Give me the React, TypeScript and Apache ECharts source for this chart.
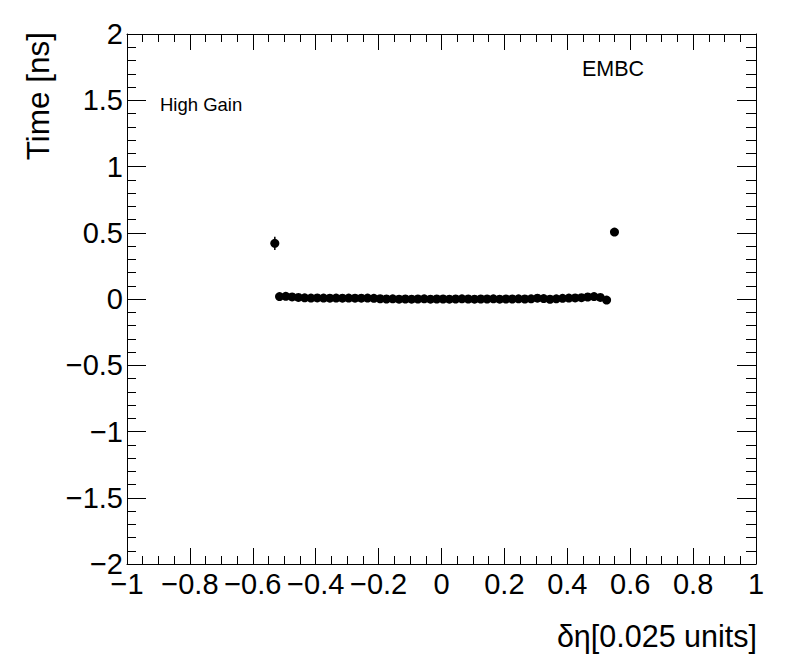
import React, { useEffect, useRef } from "react";
import * as echarts from "echarts";

const xValues = [
  -0.53, -0.515, -0.495, -0.475, -0.455, -0.435, -0.415, -0.395, -0.375, -0.355,
  -0.335, -0.315, -0.295, -0.275, -0.255, -0.235, -0.215, -0.195, -0.175, -0.155,
  -0.135, -0.115, -0.095, -0.075, -0.055, -0.035, -0.015, 0.005, 0.025, 0.045,
  0.065, 0.085, 0.105, 0.125, 0.145, 0.165, 0.185, 0.205, 0.225, 0.245,
  0.265, 0.285, 0.305, 0.325, 0.345, 0.365, 0.385, 0.405, 0.425, 0.445,
  0.465, 0.485, 0.505, 0.525, 0.55,
];

const yValues = [
  0.42, 0.018, 0.02, 0.016, 0.012, 0.009, 0.007, 0.008, 0.007, 0.006,
  0.007, 0.006, 0.007, 0.006, 0.006, 0.007, 0.005, 0.002, 0.0, 0.001,
  -0.001, 0.0, -0.001, 0.0, 0.001, -0.001, 0.0, 0.0, -0.001, 0.0,
  0.001, 0.0, -0.001, 0.0, 0.0, 0.001, -0.001, 0.0, 0.0, 0.001,
  0.0, 0.001, 0.006, 0.003, -0.002, 0.001, 0.005, 0.007, 0.008, 0.01,
  0.015, 0.018, 0.012, -0.008, 0.505,
];

const yErrors = [
  0.05, 0.008, 0.008, 0.008, 0.008, 0.008, 0.008, 0.008, 0.008, 0.008,
  0.008, 0.008, 0.008, 0.008, 0.008, 0.008, 0.008, 0.008, 0.008, 0.008,
  0.008, 0.008, 0.008, 0.008, 0.008, 0.008, 0.008, 0.008, 0.008, 0.008,
  0.008, 0.008, 0.008, 0.008, 0.008, 0.008, 0.008, 0.008, 0.008, 0.008,
  0.008, 0.008, 0.008, 0.008, 0.008, 0.008, 0.008, 0.008, 0.008, 0.008,
  0.008, 0.008, 0.008, 0.008, 0.012,
];

const xTitle = "δη[0.025 units]";
const yTitle = "Time [ns]";
const textGain = "High Gain";
const textDet = "EMBC";

const FONT = "Liberation Sans, Arial, Helvetica, sans-serif";

const fmt = (v: number) => {
  const r = Math.round(v * 10) / 10;
  return (r === 0 ? "0" : String(r)).replace("-", "\u2212");
};

export default function App() {
  const ref = useRef<HTMLDivElement>(null);
  useEffect(() => {
    if (!ref.current) return;
    const chart = echarts.init(ref.current, null, { renderer: "svg" });
    const pts = xValues.map((x, i) => [x, yValues[i]]);
    const errs = xValues.map((x, i) => [x, yValues[i] - yErrors[i], yValues[i] + yErrors[i]]);
    const axisCommon = {
      type: "value" as const,
      axisLine: { show: true, onZero: false, lineStyle: { color: "#000", width: 1 } },
      splitLine: { show: false },
      minorSplitLine: { show: false },
    };
    chart.setOption({
      animation: false,
      backgroundColor: "#fff",
      grid: { left: 127, top: 34, right: 40, bottom: 108, containLabel: false },
      xAxis: [
        {
          ...axisCommon,
          min: -1,
          max: 1,
          interval: 0.2,
          position: "bottom",
          axisTick: { show: true, inside: true, length: 16, lineStyle: { color: "#000" } },
          minorTick: { show: true, splitNumber: 4, length: 8, lineStyle: { color: "#000" } },
          axisLabel: {
            show: true,
            margin: 5,
            color: "#000",
            fontFamily: FONT,
            fontSize: 29,
            formatter: fmt,
          },
        },
        {
          ...axisCommon,
          min: -1,
          max: 1,
          interval: 0.2,
          position: "top",
          axisTick: { show: true, inside: true, length: 16, lineStyle: { color: "#000" } },
          minorTick: { show: true, splitNumber: 4, length: 8, lineStyle: { color: "#000" } },
          axisLabel: { show: false },
        },
      ],
      yAxis: [
        {
          ...axisCommon,
          min: -2,
          max: 2,
          interval: 0.5,
          position: "left",
          axisTick: { show: true, inside: true, length: 19, lineStyle: { color: "#000" } },
          minorTick: { show: true, splitNumber: 5, length: 9, lineStyle: { color: "#000" } },
          axisLabel: {
            show: true,
            margin: 4,
            color: "#000",
            fontFamily: FONT,
            fontSize: 29,
            formatter: fmt,
          },
        },
        {
          ...axisCommon,
          min: -2,
          max: 2,
          interval: 0.5,
          position: "right",
          axisTick: { show: true, inside: true, length: 19, lineStyle: { color: "#000" } },
          minorTick: { show: true, splitNumber: 5, length: 10, lineStyle: { color: "#000" } },
          axisLabel: { show: false },
        },
      ],
      series: [
        {
          type: "custom",
          xAxisIndex: 0,
          yAxisIndex: 0,
          data: errs,
          renderItem: (params: any, api: any) => {
            const lo = api.coord([api.value(0), api.value(1)]);
            const hi = api.coord([api.value(0), api.value(2)]);
            return {
              type: "line",
              shape: { x1: lo[0], y1: lo[1], x2: hi[0], y2: hi[1] },
              style: { stroke: "#000", lineWidth: 1.5 },
            };
          },
          z: 2,
        },
        {
          type: "scatter",
          xAxisIndex: 0,
          yAxisIndex: 0,
          data: pts,
          symbol: "circle",
          symbolSize: 9,
          itemStyle: { color: "#000", opacity: 1 },
          z: 3,
        },
      ],
      graphic: [
        {
          type: "text",
          x: 160,
          y: 114,
          style: {
            text: textGain,
            fontFamily: FONT,
            fontSize: 18.5,
            fill: "#000",
            textAlign: "left",
            textVerticalAlign: "bottom",
          },
        },
        {
          type: "text",
          x: 582,
          y: 80,
          style: {
            text: textDet,
            fontFamily: FONT,
            fontSize: 21.5,
            fill: "#000",
            textAlign: "left",
            textVerticalAlign: "bottom",
          },
        },
        {
          type: "text",
          x: 757,
          y: 636,
          style: {
            text: xTitle,
            fontFamily: FONT,
            fontSize: 30.5,
            fill: "#000",
            textAlign: "right",
            textVerticalAlign: "middle",
          },
        },
        {
          type: "text",
          x: 38,
          y: 32,
          rotation: Math.PI / 2,
          style: {
            text: yTitle,
            fontFamily: FONT,
            fontSize: 31.5,
            fill: "#000",
            textAlign: "right",
            textVerticalAlign: "middle",
          },
        },
      ],
    });
    return () => chart.dispose();
  }, []);
  return (
    <div
      ref={ref}
      style={{ position: "fixed", left: 0, top: 0, width: 796, height: 672, background: "#fff" }}
    />
  );
}
